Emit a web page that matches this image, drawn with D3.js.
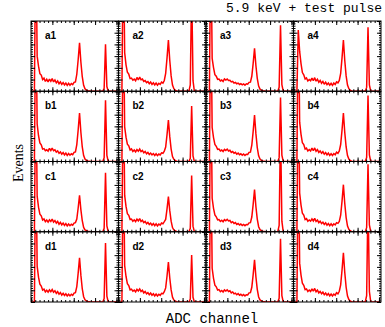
<!DOCTYPE html>
<html><head><meta charset="utf-8">
<script src="https://cdn.jsdelivr.net/npm/d3@7"></script>
<style>body{margin:0;background:#fff}svg{display:block}</style>
</head><body>
<script>
// ---- data ----
const title = "5.9 keV + test pulse";
const xTitle = "ADC channel";
const yTitle = "Events";
const rows = ["a","b","c","d"];
const cols = ["1","2","3","4"];
const binWidth = 64;           // ADC channels per bin
const xMax = 4096;             // ADC range
const yMax = 600;              // counts range
const xMajor = [0,1000,2000,3000,4000];
const yMajor = [0,100,200,300,400,500,600];

const spec_a1 = [0,0,0,1400,300,214,150,138,100,112,84,102,80,104,86,108,80,96,72,88,64,80,58,74,54,70,50,68,52,66,56,76,
  80,145,269,414,248,124,50,21,10,4,2,0,0,0,0,0,0,0,0,0,0,24,402,40,0,0,0,0,0,0,0,0];
const spec_a2 = [0,0,0,1400,330,226,162,146,108,112,94,104,90,118,96,120,98,104,84,92,74,82,64,78,58,72,54,70,52,68,58,78,
  70,92,153,285,438,263,131,53,22,8,3,1,0,0,0,0,0,0,0,0,54,900,90,0,0,0,0,0,0,0,0,0];
const spec_a3 = [0,0,0,1400,280,202,142,128,102,104,88,96,84,106,96,104,92,94,80,84,70,76,64,70,58,64,54,62,52,64,60,76,
  78,128,238,366,220,110,44,18,10,4,2,0,0,0,0,0,0,0,0,0,0,34,564,56,0,0,0,0,0,0,0,0];
const spec_a4 = [0,0,0,522,340,236,160,140,104,114,88,100,90,112,90,116,86,102,76,92,68,84,60,78,56,70,52,68,50,70,58,80,
  72,92,153,285,438,263,131,53,22,8,3,1,0,0,0,0,0,0,0,0,0,33,546,55,0,0,0,0,0,0,0,0];
const spec_b1 = [0,0,0,1400,320,220,158,142,106,110,92,100,88,112,94,114,92,100,80,90,70,82,62,76,56,72,52,68,54,66,58,78,
  82,145,269,414,248,124,50,21,10,4,2,0,0,0,0,0,0,0,0,0,0,31,522,52,0,0,0,0,0,0,0,0];
const spec_b2 = [0,0,0,1400,296,208,148,134,98,108,86,98,82,102,88,106,84,94,74,86,66,78,60,72,56,68,52,66,50,64,56,74,
  70,88,124,230,354,212,106,42,18,8,3,1,0,0,0,0,0,0,0,0,28,474,47,0,0,0,0,0,0,0,0,0];
const spec_b3 = [0,0,0,1400,290,204,146,130,104,106,90,98,86,104,94,106,90,96,78,86,70,78,62,72,58,66,54,64,52,62,60,78,
  80,139,257,396,238,119,48,20,10,4,2,0,0,0,0,0,0,0,0,0,0,33,546,55,0,0,0,0,0,0,0,0];
const spec_b4 = [0,0,0,1400,336,232,160,144,106,114,90,102,90,114,92,116,88,102,78,90,70,84,62,76,56,72,52,66,52,68,58,80,
  70,90,145,269,414,248,124,50,21,8,3,1,0,0,0,0,0,0,0,0,0,34,564,56,0,0,0,0,0,0,0,0];
const spec_c1 = [0,0,0,1400,304,210,150,136,100,110,86,100,82,102,88,108,82,96,74,88,64,80,58,74,54,70,50,66,52,64,56,74,
  78,109,203,312,187,94,37,16,10,4,2,0,0,0,0,0,0,0,0,0,0,30,504,50,0,0,0,0,0,0,0,0];
const spec_c2 = [0,0,0,1400,310,216,154,140,104,108,90,102,86,108,92,112,88,98,78,88,68,80,62,74,56,70,52,68,50,66,56,74,
  68,86,105,195,300,180,90,36,15,8,3,1,0,0,0,0,0,0,0,0,29,480,48,0,0,0,0,0,0,0,0,0];
const spec_c3 = [0,0,0,1400,286,200,144,128,102,104,88,98,86,104,94,106,92,96,78,86,70,78,62,70,58,66,54,62,52,62,60,76,
  78,126,234,360,216,108,43,18,10,4,2,0,0,0,0,0,0,0,0,0,0,54,900,90,0,0,0,0,0,0,0,0];
const spec_c4 = [0,0,0,1400,330,228,158,142,104,112,90,100,90,110,92,114,88,100,78,90,70,82,62,76,56,70,52,68,52,68,58,78,
  72,88,141,261,402,241,121,48,20,8,3,1,0,0,0,0,0,0,0,0,0,35,576,58,0,0,0,0,0,0,0,0];
const spec_d1 = [0,0,0,1400,306,212,152,136,102,110,86,100,84,104,88,106,84,96,74,88,66,80,58,74,56,70,52,66,52,66,56,76,
  80,132,246,378,227,113,45,19,10,4,2,0,0,0,0,0,0,0,0,0,0,30,504,50,0,0,0,0,0,0,0,0];
const spec_d2 = [0,0,0,1400,312,218,156,140,104,110,92,102,86,108,94,112,90,100,78,90,70,80,62,76,58,70,52,68,52,66,56,74,
  70,88,120,222,342,205,103,41,17,8,3,1,0,0,0,0,0,0,0,0,24,402,40,0,0,0,0,0,0,0,0,0];
const spec_d3 = [0,0,0,1400,288,202,144,130,102,106,88,98,86,104,94,104,90,96,78,86,70,76,62,72,58,66,54,64,52,62,60,78,
  80,126,234,360,216,108,43,18,10,4,2,0,0,0,0,0,0,0,0,0,0,32,540,54,0,0,0,0,0,0,0,0];
const spec_d4 = [0,0,0,1400,332,230,160,142,106,112,90,102,90,112,92,116,88,102,78,90,70,84,62,76,58,72,52,68,52,68,58,80,
  70,92,147,273,420,252,126,50,21,8,3,1,0,0,0,0,0,0,0,0,0,54,900,90,0,0,0,0,0,0,0,0];

const spectra = {
  a1: spec_a1, a2: spec_a2, a3: spec_a3, a4: spec_a4,
  b1: spec_b1, b2: spec_b2, b3: spec_b3, b4: spec_b4,
  c1: spec_c1, c2: spec_c2, c3: spec_c3, c4: spec_c4,
  d1: spec_d1, d2: spec_d2, d3: spec_d3, d4: spec_d4
};

// ---- layout ----
const W = 385, H = 327;
const gx0 = 31, gx1 = 381, gy0 = 21, gy1 = 302;
const pw = (gx1 - gx0) / cols.length, ph = (gy1 - gy0) / rows.length;

const svg = d3.select("body").append("svg").attr("width", W).attr("height", H);

const x = d3.scaleLinear().domain([0, xMax]).range([0, pw]);
const y = d3.scaleLinear().domain([0, yMax]).range([ph, 0]);

const xMinor = d3.range(0, xMax + 1, 200);
const yMinor = d3.range(0, yMax + 1, 20);

const line = d3.line()
  .x(d => x(d[0])).y(d => y(d[1]))
  .curve(d3.curveLinear);

rows.forEach((r, ri) => {
  cols.forEach((c, ci) => {
    const name = r + c;
    const counts = spectra[name];
    const g = svg.append("g").attr("transform", `translate(${gx0 + ci * pw},${gy0 + ri * ph})`);
    const cid = "clip-" + name;
    g.append("clipPath").attr("id", cid).append("rect").attr("width", pw).attr("height", ph);

    const pts = counts.map((v, i) => [(i + 0.5) * binWidth, v]);
    g.append("path").datum(pts)
      .attr("clip-path", `url(#${cid})`)
      .attr("fill", "none").attr("stroke", "#ff0000").attr("stroke-width", 1.5)
      .attr("stroke-linejoin", "miter").attr("stroke-miterlimit", 2)
      .attr("d", line);

    const mk = (axisFn, scale, vals, size, tr) => {
      const a = g.append("g").attr("transform", tr)
        .call(axisFn(scale).tickValues(vals).tickSize(size).tickFormat(""));
      a.select(".domain").remove();
      a.selectAll("line").attr("stroke", "#000").attr("stroke-width", 1);
    };
    mk(d3.axisBottom, x, xMinor, -2, `translate(0,${ph})`);
    mk(d3.axisBottom, x, xMajor, -4, `translate(0,${ph})`);
    mk(d3.axisTop, x, xMinor, -2, `translate(0,0)`);
    mk(d3.axisTop, x, xMajor, -4, `translate(0,0)`);
    mk(d3.axisLeft, y, yMinor, -2, `translate(0,0)`);
    mk(d3.axisLeft, y, yMajor, -4, `translate(0,0)`);
    mk(d3.axisRight, y, yMinor, -2, `translate(${pw},0)`);
    mk(d3.axisRight, y, yMajor, -4, `translate(${pw},0)`);

    g.append("rect").attr("width", pw).attr("height", ph)
      .attr("fill", "none").attr("stroke", "#000").attr("stroke-width", 1);

    g.append("text").attr("x", 14).attr("y", 18)
      .attr("font-family", "Liberation Sans, Arial, sans-serif")
      .attr("font-weight", "bold").attr("font-size", 10)
      .text(name);
  });
});

svg.append("text").attr("x", 382).attr("y", 12).attr("text-anchor", "end")
  .attr("font-family", "Liberation Mono, monospace").attr("font-size", 13)
  .text(title);

svg.append("text").attr("x", 212).attr("y", 323).attr("text-anchor", "middle")
  .attr("font-family", "Liberation Mono, monospace").attr("font-size", 14)
  .text(xTitle);

svg.append("text").attr("transform", "translate(23,163) rotate(-90)").attr("text-anchor", "middle")
  .attr("font-family", "Liberation Serif, serif").attr("font-size", 14)
  .text(yTitle);
</script>
</body></html>
